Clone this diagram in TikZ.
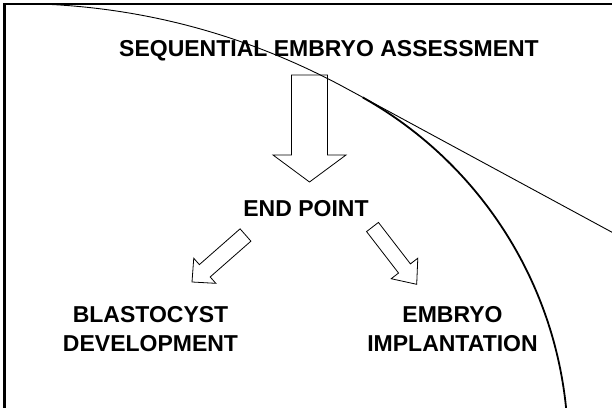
\documentclass[tikz,border=0pt]{standalone}
\usepackage{fontspec}
\setmainfont{Liberation Sans}
\usetikzlibrary{calc}

\tikzset{
	lbl/.style={font=\fontsize{23}{29}\selectfont\bfseries, inner sep=0pt, align=center},
	fat/.style={draw, fill=white, line width=0.8pt, line join=miter},
}
% hollow block arrow: tail, tip, half shaft, half head, head length
\newcommand{\fatarrow}[5]{%
	\coordinate (neck) at ($(#2)!#5!(#1)$);
	\draw[fat] ($(#1)!#3!90:(#2)$) -- ($(neck)!#3!90:(#2)$) -- ($(neck)!#4!90:(#2)$) -- (#2)
		-- ($(neck)!#4!-90:(#2)$) -- ($(neck)!#3!-90:(#2)$) -- ($(#1)!#3!-90:(#2)$) -- cycle;}

\begin{document}
\begin{tikzpicture}[x=1pt, y=1pt]
	\useasboundingbox (0,0) rectangle (612,407);
	\fill[white] (0,0) rectangle (612,407);
	
	% frame
	\draw[line width=2.5pt] (4.5,-5) -- (4.5,403) -- (620,403);
	
	\node[lbl, anchor=base] (title) at (329,350.5) {SEQUENTIAL EMBRYO ASSESSMENT};
	\node[lbl, anchor=base] (endpt) at (306,190) {END POINT};
	\node[lbl] (blasto) at (150.5,77.5) {BLASTOCYST\\DEVELOPMENT};
	\node[lbl] (implant) at (452.5,77.5) {EMBRYO\\IMPLANTATION};
	
	\coordinate (downs) at (309.5,332);
	\coordinate (downe) at (309.5,225);
	\coordinate (lefts) at (245.5,172);
	\coordinate (lefte) at (192,125);
	\coordinate (rights) at (372.5,180);
	\coordinate (righte) at (416.7,122.7);
	
	\fatarrow{downs}{downe}{18pt}{36.5pt}{27pt}
	\fatarrow{lefts}{lefte}{8.2pt}{16.7pt}{17pt}
	\fatarrow{rights}{righte}{7.5pt}{16.8pt}{20pt}
	
	% curves
	\draw[line width=0.9pt] (40,403) .. controls (150,399) and (250,369.6) .. (340,322) -- (630,165);
	\draw[line width=1.8pt] (362.8,309.5) arc[start angle=60.7, end angle=2, radius=402pt];
\end{tikzpicture}
\end{document}
